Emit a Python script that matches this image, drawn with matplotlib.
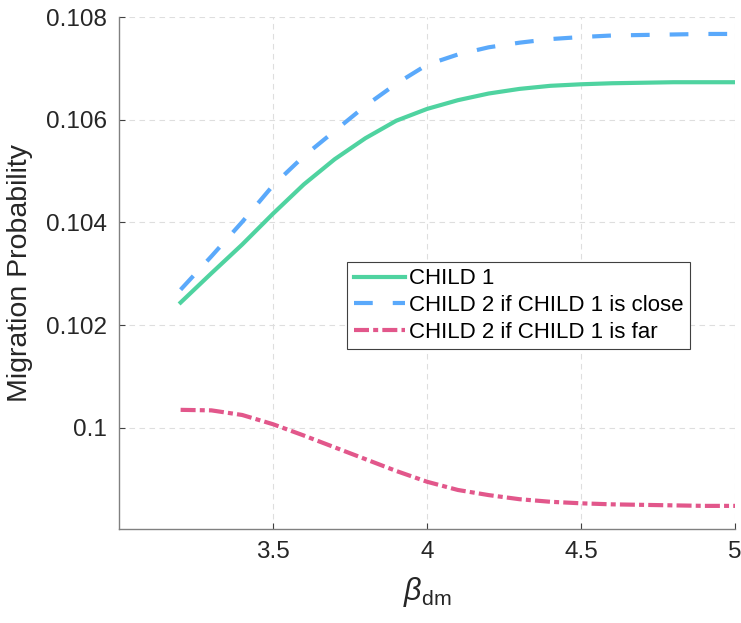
import matplotlib.pyplot as plt
import numpy as np

plt.rcParams['font.family'] = ['Liberation Sans', 'DejaVu Sans']
plt.rcParams['mathtext.fontset'] = 'custom'
plt.rcParams['mathtext.rm'] = 'Liberation Sans'
plt.rcParams['mathtext.it'] = 'Liberation Sans:italic'

# значения
beta = [3.2, 3.3, 3.4, 3.5, 3.6, 3.7, 3.8, 3.9, 4.0, 4.1,
        4.2, 4.3, 4.4, 4.5, 4.6, 4.7, 4.8, 4.9, 5.0]
child1 = [0.10244, 0.10301, 0.10357, 0.10417, 0.10474, 0.10523, 0.10564, 0.10598, 0.10621, 0.10638,
          0.10651, 0.10660, 0.10666, 0.10669, 0.10671, 0.10672, 0.10673, 0.10673, 0.10673]
child2_close = [0.10269, 0.10334, 0.10401, 0.10472, 0.10529, 0.10578, 0.10627, 0.10670, 0.10707, 0.10727,
                0.10741, 0.10750, 0.10757, 0.10761, 0.10764, 0.10765, 0.10766, 0.10767, 0.10767]
child2_far = [0.10035, 0.10034, 0.10025, 0.10007, 0.09985, 0.09962, 0.09939, 0.09916, 0.09895, 0.09879,
              0.09869, 0.09861, 0.09856, 0.09853, 0.09851, 0.09850, 0.09849, 0.09848, 0.09848]
labels = ['CHILD 1', 'CHILD 2 if CHILD 1 is close', 'CHILD 2 if CHILD 1 is far']
xticks = [3.5, 4, 4.5, 5]
xtick_labels = ['3.5', '4', '4.5', '5']
yticks = [0.1, 0.102, 0.104, 0.106, 0.108]
ytick_labels = ['0.1', '0.102', '0.104', '0.106', '0.108']

fig = plt.figure(figsize=(7.41, 6.23), dpi=100)
ax = fig.add_axes([0.1606, 0.1509, 0.8314, 0.8218])

ax.plot(beta, child1, color='#4fd3a0', lw=3, label=labels[0])
ax.plot(beta, child2_close, color='#5aa9fb', lw=3, dashes=(4.5, 4.8), label=labels[1])
ax.plot(beta, child2_far, color='#e2578b', lw=3, dashes=(3.6, 1.0, 1.2, 1.0), label=labels[2])

ax.set_xlim(3, 5)
ax.set_ylim(0.09803, 0.108)
ax.set_xticks(xticks)
ax.set_xticklabels(xtick_labels)
ax.set_yticks(yticks)
ax.set_yticklabels(ytick_labels)

ax.grid(True, linestyle=(0, (5, 4)), color='#dedede', lw=0.8)
ax.tick_params(direction='in', length=4, width=0.8, color='#404040',
               labelsize=17.5, labelcolor='#262626', pad=9)
for s in ['top', 'right']:
    ax.spines[s].set_visible(False)
for s in ['left', 'bottom']:
    ax.spines[s].set_color('#808080')
    ax.spines[s].set_linewidth(1.0)

ax.set_ylabel('Migration Probability', fontsize=20.5, color='#262626', labelpad=9)
ax.set_xlabel(r'$\it{\beta}_{\rm dm}$', fontsize=22, color='#262626', labelpad=8)

leg = ax.legend(loc='upper left', bbox_to_anchor=(0.370, 0.522), fontsize=16,
                handlelength=2.3, fancybox=False, framealpha=1, edgecolor='#404040',
                borderpad=0.3, labelspacing=0.25, handletextpad=0.2, borderaxespad=0)
leg.get_frame().set_linewidth(0.8)

plt.savefig('out.png', dpi=100)
